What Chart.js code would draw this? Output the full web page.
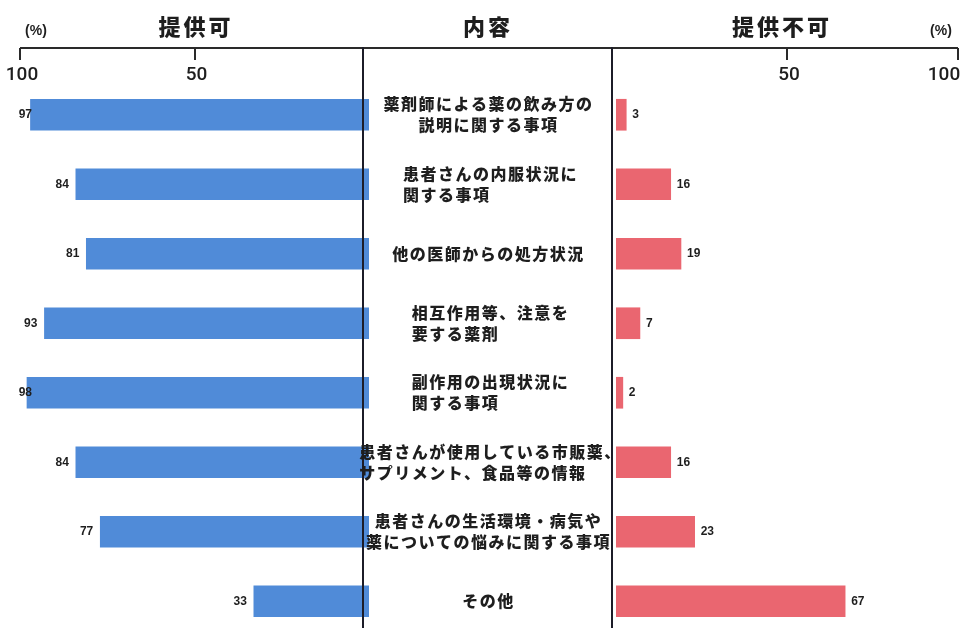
<!DOCTYPE html>
<html lang="ja">
<head>
<meta charset="utf-8">
<script src="https://cdn.jsdelivr.net/npm/chart.js"></script>
<style>
  html, body { margin: 0; padding: 0; background: #fff; overflow: hidden; }
  #wrap { position: relative; width: 964px; height: 628px; overflow: hidden; background: #fff; }
  #wrap canvas { position: absolute; left: 0; top: 0; }
</style>
</head>
<body>
<div id="wrap">
  <canvas id="graphKa" width="964" height="640"></canvas>
  <canvas id="graphFuka" width="964" height="640"></canvas>
</div>
<script>
// 内容（項目名）
var naiyou = [
    ['薬剤師による薬の飲み方の', '説明に関する事項'],
    ['患者さんの内服状況に', '関する事項'],
    ['他の医師からの処方状況'],
    ['相互作用等、注意を', '要する薬剤'],
    ['副作用の出現状況に', '関する事項'],
    ['患者さんが使用している市販薬、', 'サプリメント、食品等の情報'],
    ['患者さんの生活環境・病気や', '薬についての悩みに関する事項'],
    ['その他']
];
// 提供可 / 提供不可 (%)
var teikyouKa = [97, 84, 81, 93, 98, 84, 77, 33];
var teikyouFuka = [3, 16, 19, 7, 2, 16, 23, 67];
// 目盛り
var memori = [100, 50];
var titreKa = '提供可';
var titreNaiyou = '内容';
var titreFuka = '提供不可';
var tani = '(%)';

var BLEU = '#508bd8';
var ROUGE = '#ea6670';
var NOIR = '#1e1e1e';
var LIGNE_Y = 48;        // hauteur de la règle du haut
var COL_G = 363, COL_D = 612;   // lignes verticales de la colonne centrale

// les lignes centrées (les autres sont alignées à gauche dans leur bloc)
var centrees = [0, 2, 6, 7];

function texte(ctx, str, x, y, font, align, spacing) {
    ctx.save();
    ctx.font = font;
    ctx.fillStyle = NOIR;
    ctx.textAlign = align;
    ctx.textBaseline = 'middle';
    ctx.letterSpacing = spacing || '0px';
    ctx.fillText(str, x, y);
    ctx.restore();
}

// règle du haut : trait, petits traits vers le bas, chiffres
function regle(ctx, scale, x1, x2) {
    ctx.save();
    ctx.strokeStyle = '#2a2a2a';
    ctx.lineWidth = 2;
    ctx.beginPath();
    ctx.moveTo(x1, LIGNE_Y);
    ctx.lineTo(x2, LIGNE_Y);
    memori.forEach(function (v) {
        var px = Math.round(scale.getPixelForValue(v));
        ctx.moveTo(px, LIGNE_Y);
        ctx.lineTo(px, LIGNE_Y + 12);
    });
    ctx.stroke();
    ctx.restore();
    memori.forEach(function (v) {
        var px = scale.getPixelForValue(v);
        px = Math.min(px, 964 - 22);
        texte(ctx, String(v), px + 2, 75, '500 19px Roboto, sans-serif', 'center');
    });
}

function verticale(ctx, x) {
    ctx.save();
    ctx.strokeStyle = '#1c1c28';
    ctx.lineWidth = 2;
    ctx.beginPath();
    ctx.moveTo(x, LIGNE_Y - 1);
    ctx.lineTo(x, 640);
    ctx.stroke();
    ctx.restore();
}

var POLICE_NB = "bold 12px 'Liberation Sans Narrow', 'Liberation Sans', sans-serif";
var POLICE_JP = "900 16px 'Noto Sans CJK JP', sans-serif";
var POLICE_TITRE = "900 22px 'Noto Sans CJK JP', sans-serif";
var POLICE_TANI = "bold 14px 'Liberation Sans', sans-serif";

var pluginKa = {
    id: 'gauche',
    afterDatasetsDraw: function (chart) {
        var ctx = chart.ctx;
        var xs = chart.scales.x, ys = chart.scales.y;

        texte(ctx, titreKa, 196, 27, POLICE_TITRE, 'center', '3px');
        texte(ctx, titreNaiyou, 488, 27, POLICE_TITRE, 'center', '3px');
        texte(ctx, tani, 36, 31, POLICE_TANI, 'center');

        regle(ctx, xs, xs.getPixelForValue(100), COL_D);
        verticale(ctx, COL_G);

        // valeurs à gauche des barres
        chart.getDatasetMeta(0).data.forEach(function (bar, i) {
            var fin = Math.max(bar.x - 7, 32);
            texte(ctx, String(teikyouKa[i]), fin, bar.y, POLICE_NB, 'right');
        });

        // libellés de la colonne centrale
        ctx.save();
        ctx.font = POLICE_JP;
        ctx.letterSpacing = '1.5px';
        var milieu = (COL_G + COL_D) / 2;
        naiyou.forEach(function (lignes, i) {
            var cy = ys.getPixelForValue(i);
            var h = 21;
            var large = 0;
            lignes.forEach(function (l) { large = Math.max(large, ctx.measureText(l).width); });
            lignes.forEach(function (l, k) {
                var y = cy + (k - (lignes.length - 1) / 2) * h;
                if (centrees.indexOf(i) >= 0) {
                    texte(ctx, l, milieu + 1, y, POLICE_JP, 'center', '1.5px');
                } else {
                    texte(ctx, l, milieu - large / 2 + 3, y, POLICE_JP, 'left', '1.5px');
                }
            });
        });
        ctx.restore();
    }
};

var pluginFuka = {
    id: 'droite',
    afterDatasetsDraw: function (chart) {
        var ctx = chart.ctx;
        var xs = chart.scales.x;

        texte(ctx, titreFuka, 782, 27, POLICE_TITRE, 'center', '3px');
        texte(ctx, tani, 941, 31, POLICE_TANI, 'center');

        regle(ctx, xs, COL_D, xs.getPixelForValue(100));
        verticale(ctx, COL_D);

        chart.getDatasetMeta(0).data.forEach(function (bar, i) {
            texte(ctx, String(teikyouFuka[i]), bar.x + 6, bar.y, POLICE_NB, 'left');
        });
    }
};

function options(reverse, padding) {
    return {
        responsive: false,
        animation: false,
        indexAxis: 'y',
        layout: { padding: padding },
        plugins: { legend: { display: false }, tooltip: { enabled: false } },
        scales: {
            x: { display: false, reverse: reverse, min: 0, max: 100 },
            y: { display: false }
        }
    };
}

new Chart(document.getElementById('graphKa'), {
    type: 'bar',
    data: {
        labels: naiyou,
        datasets: [{ data: teikyouKa, backgroundColor: BLEU, barThickness: 31 }]
    },
    options: options(true, { left: 20, right: 964 - 369, top: 80, bottom: 4 }),
    plugins: [pluginKa]
});

new Chart(document.getElementById('graphFuka'), {
    type: 'bar',
    data: {
        labels: naiyou,
        datasets: [{ data: teikyouFuka, backgroundColor: ROUGE, barThickness: 31 }]
    },
    options: options(false, { left: 616, right: 964 - 958, top: 80, bottom: 4 }),
    plugins: [pluginFuka]
});
</script>
</body>
</html>
